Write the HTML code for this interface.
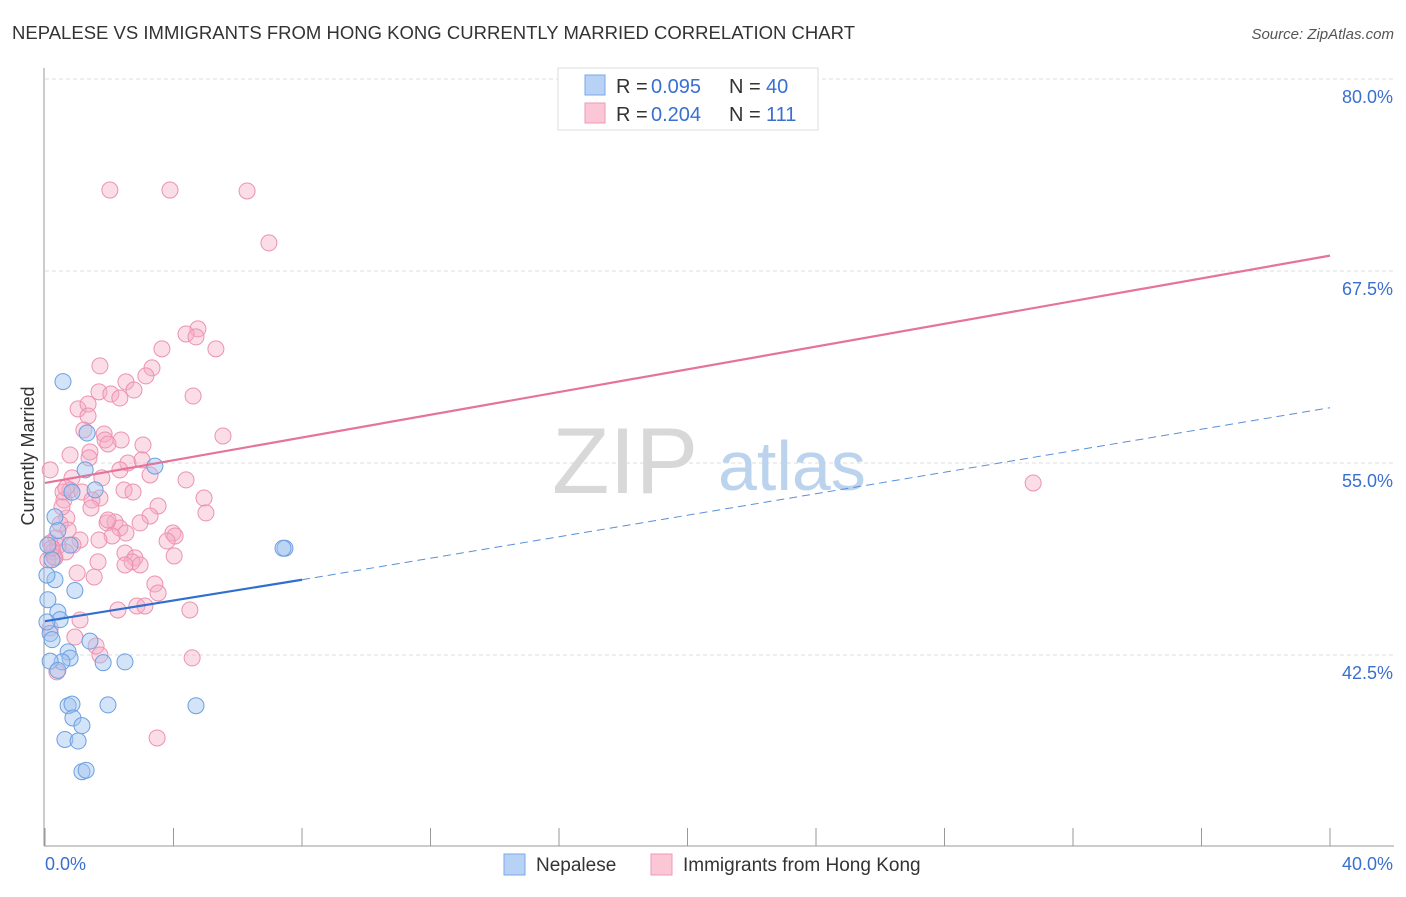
<!DOCTYPE html>
<html><head><meta charset="utf-8"><style>
body{margin:0;background:#fff;font-family:"Liberation Sans",sans-serif;}
svg text{font-family:"Liberation Sans",sans-serif;}
</style></head><body>
<svg id="chart" width="1406" height="892">
<text x="12" y="39" font-size="18.5" fill="#333" textLength="843">NEPALESE VS IMMIGRANTS FROM HONG KONG CURRENTLY MARRIED CORRELATION CHART</text>
<text x="1394" y="39" font-size="15" fill="#555" text-anchor="end" font-style="italic">Source: ZipAtlas.com</text>
<text x="34" y="456" font-size="18" fill="#333" text-anchor="middle" transform="rotate(-90 34 456)">Currently Married</text>
<g id="grid"></g>
<g><text x="552" y="493" font-size="94" font-family="Liberation Serif" fill="#d8d8d8">ZIP</text><text x="718" y="490" font-size="70" fill="#bcd3ee">atlas</text></g>
<line x1="44" y1="68" x2="44" y2="846" stroke="#999"/>
<line x1="44" y1="846" x2="1394" y2="846" stroke="#999"/>
<g id="ticks"></g>
<g id="pts"></g>
<g id="lines"></g>
<g>
<rect x="558" y="68" width="260" height="62" fill="#fff" stroke="#ddd"/>
<rect x="585" y="75" width="20" height="20" fill="#b8d2f6" stroke="#7aa8e6"/>
<rect x="585" y="103" width="20" height="20" fill="#fbc6d5" stroke="#ee9ab6"/>
<text x="616" y="93" font-size="20" fill="#333">R =</text><text x="651" y="93" font-size="20" fill="#3a6fd0">0.095</text>
<text x="729" y="93" font-size="20" fill="#333">N =</text><text x="766" y="93" font-size="20" fill="#3a6fd0">40</text>
<text x="616" y="121" font-size="20" fill="#333">R =</text><text x="651" y="121" font-size="20" fill="#3a6fd0">0.204</text>
<text x="729" y="121" font-size="20" fill="#333">N =</text><text x="766" y="121" font-size="20" fill="#3a6fd0">111</text>
</g>
<g>
<rect x="504" y="854" width="21" height="21" fill="#b8d2f6" stroke="#7aa8e6"/>
<text x="536" y="871" font-size="19" fill="#333">Nepalese</text>
<rect x="651" y="854" width="21" height="21" fill="#fbc6d5" stroke="#ee9ab6"/>
<text x="683" y="871" font-size="19" fill="#333">Immigrants from Hong Kong</text>
</g>
<text x="45" y="870" font-size="18" fill="#3a6fd0">0.0%</text>
<text x="1393" y="870" font-size="18" fill="#3a6fd0" text-anchor="end">40.0%</text>
</svg>
<script>
const yTicks=[80,67.5,55,42.5];
const yTickLabels=["80.0%","67.5%","55.0%","42.5%"];
const blueX=[0.56,3.42,1.31,1.25,1.56,0.84,0.31,0.40,7.47,7.41,0.78,0.22,0.31,0.93,0.09,0.40,0.47,0.16,1.40,0.72,0.78,0.53,0.16,1.81,2.49,0.40,0.72,0.84,1.96,4.70,0.87,1.15,0.62,1.03,1.15,1.28,0.06,0.09,0.06,0.22];
const blueY=[60.3,54.8,56.95,54.55,53.25,53.1,51.5,50.6,49.45,49.45,49.65,48.7,47.4,46.7,46.1,45.3,44.8,43.9,43.4,42.7,42.3,42.05,42.1,42.0,42.05,41.5,39.2,39.3,39.25,39.2,38.4,37.9,37.0,36.9,34.9,35.0,47.7,49.65,44.65,43.5];
const pinkX=[2.02,3.89,6.29,6.97,4.76,4.39,4.70,5.32,3.64,1.71,3.33,3.14,2.52,1.68,2.77,2.05,4.61,2.33,1.03,1.34,1.34,5.54,1.21,1.84,1.87,2.37,3.05,1.96,1.40,0.78,1.37,2.58,3.02,2.33,1.77,3.27,4.39,0.84,2.46,0.78,1.15,2.74,1.71,1.46,4.95,0.59,3.52,1.43,5.01,3.27,0.68,2.18,1.93,0.47,2.33,0.72,2.52,3.98,4.05,2.09,0.34,1.09,0.16,1.68,0.87,0.40,3.80,0.25,2.49,0.65,2.80,2.71,1.65,4.02,2.96,0.31,1.00,1.53,3.42,3.52,2.86,3.11,2.27,4.51,1.09,0.16,0.93,1.59,1.71,4.58,0.37,3.49,30.76,0.56,0.16,1.96,2.96,0.53,0.65,2.49,0.09,0.28,0.22];
const pinkY=[72.77,72.77,72.71,69.33,63.73,63.40,63.21,62.43,62.43,61.32,61.19,60.67,60.28,59.63,59.75,59.49,59.36,59.23,58.52,58.84,58.06,56.76,57.15,56.89,56.50,56.50,56.17,56.24,55.72,55.52,55.33,55.00,55.20,54.55,54.03,54.22,53.90,54.03,53.24,53.24,53.11,53.11,52.72,52.59,52.72,52.59,52.20,52.07,51.75,51.55,51.42,51.16,51.10,51.03,50.77,50.64,50.44,50.44,50.25,50.25,50.12,49.99,49.79,49.99,49.66,49.60,49.92,49.21,49.14,49.21,48.82,48.56,48.56,48.95,48.36,48.82,47.84,47.58,47.12,46.54,45.69,45.69,45.43,45.43,44.78,44.26,43.67,43.09,42.50,42.31,41.40,37.10,53.70,53.11,54.55,51.29,51.10,52.14,53.37,48.36,48.69,48.88,49.47];
const blueTrend=[0,44.7,8,47.4,40,58.6];
const pinkTrend=[0,53.7,40,68.5];
const NS="http://www.w3.org/2000/svg";
const X=v=>45+v/40*1285;
const Y=v=>79+(80-v)/12.5*192;
function mk(t,a,p){const e=document.createElementNS(NS,t);for(const k in a)e.setAttribute(k,a[k]);p.appendChild(e);return e;}
const grid=document.getElementById('grid'),ticks=document.getElementById('ticks');
yTicks.forEach((v,i)=>{
 const l=mk('line',{x1:45,x2:1394,y1:Y(v),y2:Y(v),stroke:'#ddd','stroke-dasharray':'4,3'},grid);
 
 
 const t=mk('text',{x:1393,y:Y(v)+24,'font-size':18,fill:'#3a6fd0','text-anchor':'end'},ticks);
 t.textContent=yTickLabels[i];
 
 
});
for(let i=0;i<=10;i++){
 const l=mk('line',{x1:X(i*4),x2:X(i*4),y1:828,y2:846,stroke:'#999'},ticks);
 
 
}
const pts=document.getElementById('pts');
pinkX.forEach((x,i)=>{
 const c=mk('circle',{cx:X(x),cy:Y(pinkY[i]),r:8,fill:'rgba(246,170,195,0.4)',stroke:'#ec92b0','stroke-width':1},pts);
 
 
});
blueX.forEach((x,i)=>{
 const c=mk('circle',{cx:X(x),cy:Y(blueY[i]),r:8,fill:'rgba(160,195,240,0.45)',stroke:'#6d9fe0','stroke-width':1},pts);
 
 
});
const lines=document.getElementById('lines');
const pl=mk('line',{x1:X(pinkTrend[0]),y1:Y(pinkTrend[1]),x2:X(pinkTrend[2]),y2:Y(pinkTrend[3]),stroke:'#e5739a','stroke-width':2.2},lines);


const bl=mk('line',{x1:X(blueTrend[0]),y1:Y(blueTrend[1]),x2:X(blueTrend[2]),y2:Y(blueTrend[3]),stroke:'#2f6fd0','stroke-width':2.2},lines);


const bd=mk('line',{x1:X(blueTrend[2]),y1:Y(blueTrend[3]),x2:X(blueTrend[4]),y2:Y(blueTrend[5]),stroke:'#5b8fd8','stroke-width':1,'stroke-dasharray':'8,5'},lines);


</script>
</body></html>
